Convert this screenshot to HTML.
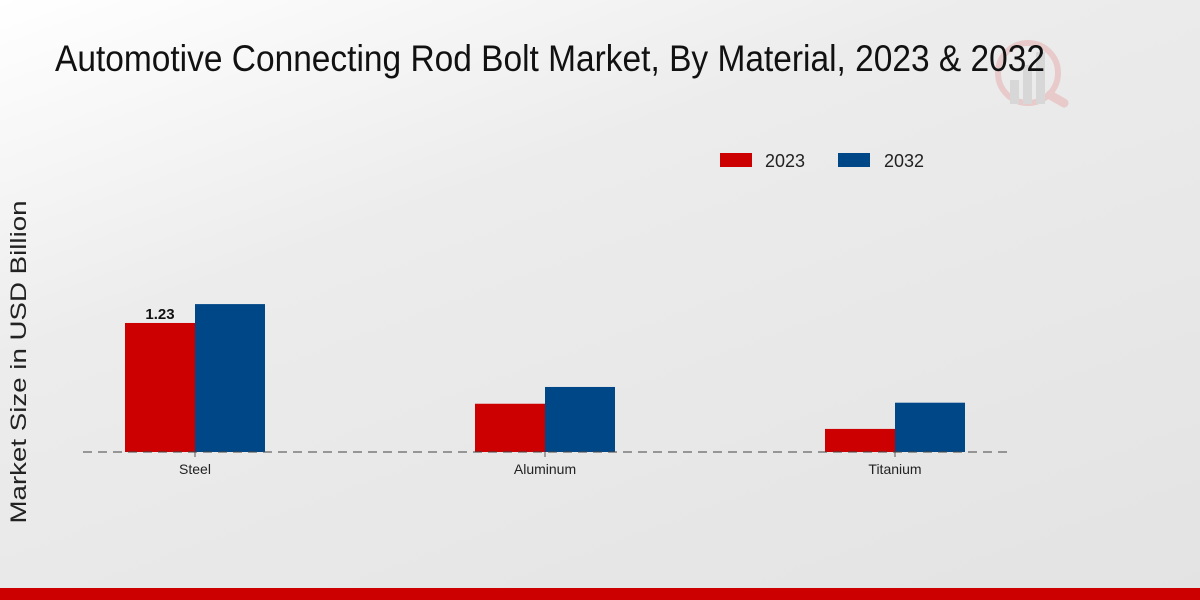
<!DOCTYPE html>
<html><head><meta charset="utf-8"><style>
html,body{margin:0;padding:0;width:1200px;height:600px;overflow:hidden}
body{background:linear-gradient(160deg,#ffffff 0%,#ececec 35%,#e3e3e3 100%);font-family:"Liberation Sans",sans-serif}
</style></head><body>
<svg id="chart" width="1200" height="600" xmlns="http://www.w3.org/2000/svg">
<g opacity="0.55">
<circle cx="1028" cy="73" r="30" fill="none" stroke="#e8b0b0" stroke-width="6"/>
<line x1="1050" y1="95" x2="1064" y2="103" stroke="#e8b0b0" stroke-width="9" stroke-linecap="round"/>
<rect x="1010" y="80" width="9" height="24" fill="#c8c8c8"/>
<rect x="1023" y="65" width="9" height="39" fill="#c8c8c8"/>
<rect x="1036" y="52" width="9" height="52" fill="#c8c8c8"/>
</g>
<text x="55" y="71" font-size="37" textLength="990" lengthAdjust="spacingAndGlyphs" fill="#111">Automotive Connecting Rod Bolt Market, By Material, 2023 &amp; 2032</text>
<text transform="translate(26,362) rotate(-90)" text-anchor="middle" font-size="22" textLength="323" lengthAdjust="spacingAndGlyphs" fill="#222">Market Size in USD Billion</text>
<g>
<rect x="720" y="153" width="32" height="14" fill="#cc0000"/>
<text x="765" y="167" font-size="18" textLength="40" lengthAdjust="spacingAndGlyphs" fill="#222">2023</text>
<rect x="838" y="153" width="32" height="14" fill="#004788"/>
<text x="884" y="167" font-size="18" textLength="40" lengthAdjust="spacingAndGlyphs" fill="#222">2032</text>
</g>
<g id="bars"></g>
<line x1="83" y1="452" x2="1007" y2="452" stroke="#444" stroke-width="1" stroke-dasharray="9,6"/>
<rect x="0" y="588" width="1200" height="12" fill="#cc0000"/>
</svg>
<script>
const categories=["Steel","Aluminum","Titanium"];
const values2023=[1.23,0.46,0.22];
const values2032=[1.41,0.62,0.47];
const labels2023=["1.23","",""];
const NS="http://www.w3.org/2000/svg";
const g=document.getElementById('bars');
const base=452, scale=104.9;
function xCenter(i){return 195+i*350;}
function yPos(v){return base-v*scale;}
function mk(tag,attrs){const e=document.createElementNS(NS,tag);for(const k in attrs)e.setAttribute(k,attrs[k]);g.appendChild(e);return e;}
categories.forEach((c,i)=>{
  const cx=xCenter(i);
  const r1=mk('rect',{x:cx-70,y:yPos(values2023[i]),width:70,height:base-yPos(values2023[i]),fill:'#cc0000'});
  
  
  const r2=mk('rect',{x:cx,y:yPos(values2032[i]),width:70,height:base-yPos(values2032[i]),fill:'#004788'});
  
  
  const tk=mk('line',{x1:cx,y1:base,x2:cx,y2:base+5,stroke:'#555'});
  
  
  const t=mk('text',{x:cx,y:base+22,'text-anchor':'middle','font-size':'14',fill:'#222'});
  t.textContent=c;
  
  
  if(labels2023[i]){
    const v=mk('text',{x:cx-35,y:yPos(values2023[i])-4,'text-anchor':'middle','font-size':'15','font-weight':'bold',fill:'#111'});
    v.textContent=labels2023[i];
    
    
  }
});
</script>
</body></html>
